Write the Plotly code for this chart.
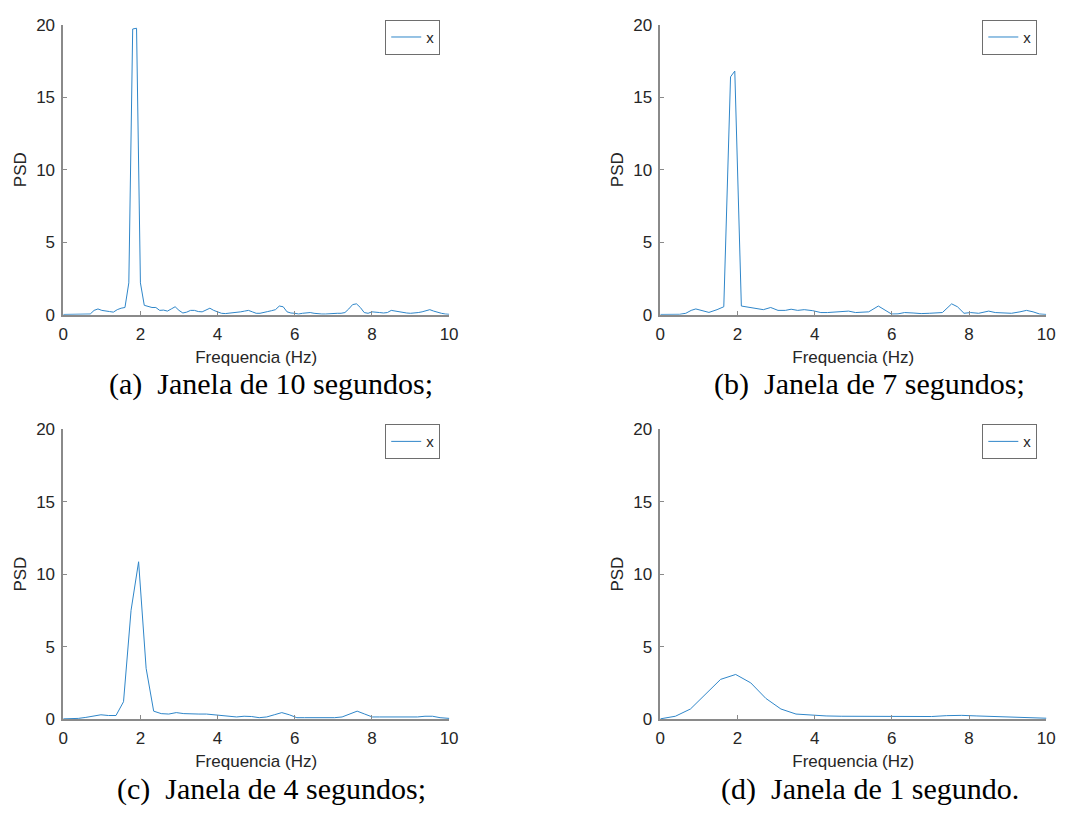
import plotly.graph_objects as go

# ---- spectra (PSD) for four window lengths ----
# (a) 10 s window, 0.1 Hz bins
freq_a = [round(k * 0.1, 2) for k in range(101)]
psd_a = [0.02, 0.02, 0.02, 0.02, 0.03, 0.03, 0.03, 0.05, 0.30, 0.40,
         0.30, 0.28, 0.22, 0.18, 0.35, 0.45, 0.50, 2.20, 19.70, 19.75,
         2.20, 0.65, 0.55, 0.50, 0.50, 0.30, 0.32, 0.25, 0.40, 0.55,
         0.30, 0.12, 0.18, 0.30, 0.30, 0.22, 0.20, 0.35, 0.45, 0.30,
         0.20, 0.10, 0.08, 0.10, 0.15, 0.18, 0.20, 0.25, 0.30, 0.20,
         0.10, 0.10, 0.18, 0.22, 0.28, 0.35, 0.60, 0.55, 0.20, 0.12,
         0.10, 0.05, 0.10, 0.15, 0.15, 0.10, 0.06, 0.05, 0.05, 0.08,
         0.10, 0.10, 0.10, 0.15, 0.40, 0.70, 0.75, 0.50, 0.15, 0.10,
         0.20, 0.20, 0.15, 0.12, 0.15, 0.30, 0.25, 0.18, 0.15, 0.12,
         0.10, 0.10, 0.15, 0.20, 0.25, 0.35, 0.25, 0.15, 0.10, 0.05,
         0.03]

# (b) 7 s window
freq_b = [0.0, 0.17, 0.34, 0.50, 0.66, 0.80, 0.92, 1.07, 1.26, 1.47,
          1.645, 1.82, 1.93, 2.10, 2.28, 2.46, 2.67, 2.86, 3.05, 3.24,
          3.39, 3.56, 3.73, 3.95, 4.16, 4.33, 4.50, 4.71, 4.88, 5.06,
          5.23, 5.40, 5.65, 5.78, 5.99, 6.16, 6.33, 6.55, 6.76, 6.97,
          7.14, 7.31, 7.55, 7.70, 7.87, 8.04, 8.25, 8.51, 8.68, 8.93,
          9.10, 9.32, 9.49, 9.66, 9.83, 10.0]
psd_b = [0.02, 0.02, 0.02, 0.03, 0.10, 0.30, 0.40, 0.30, 0.16, 0.35,
         0.55, 16.40, 16.80, 0.60, 0.52, 0.45, 0.35, 0.50, 0.30, 0.30,
         0.38, 0.30, 0.35, 0.28, 0.15, 0.15, 0.18, 0.25, 0.25, 0.15,
         0.20, 0.20, 0.60, 0.40, 0.05, 0.06, 0.15, 0.12, 0.08, 0.10,
         0.15, 0.15, 0.75, 0.55, 0.10, 0.15, 0.10, 0.25, 0.15, 0.10,
         0.10, 0.20, 0.30, 0.20, 0.05, 0.02]

# (c) 4 s window, fs = 50 Hz, nfft = 256
freq_c = [k * 50 / 256 for k in range(53)]
psd_c = [0.02, 0.02, 0.05, 0.12, 0.20, 0.30, 0.25, 0.25, 1.20, 7.50,
         10.85, 3.50, 0.55, 0.38, 0.35, 0.45, 0.38, 0.35, 0.35, 0.35,
         0.30, 0.20, 0.15, 0.15, 0.20, 0.18, 0.10, 0.15, 0.30, 0.45,
         0.30, 0.10, 0.10, 0.10, 0.08, 0.08, 0.10, 0.15, 0.35, 0.55,
         0.35, 0.15, 0.15, 0.15, 0.15, 0.10, 0.10, 0.15, 0.20, 0.20,
         0.10, 0.03, 0.02]

# (d) 1 s window, fs = 50 Hz, nfft = 128
freq_d = [k * 50 / 128 for k in range(27)]
psd_d = [0.02, 0.20, 0.70, 1.70, 2.74, 3.08, 2.50, 1.43, 0.70, 0.35,
         0.26, 0.22, 0.20, 0.20, 0.22, 0.20, 0.17, 0.17, 0.18, 0.24,
         0.26, 0.22, 0.18, 0.15, 0.12, 0.08, 0.05]

captions = ["(a)  Janela de 10 segundos;", "(b)  Janela de 7 segundos;",
            "(c)  Janela de 4 segundos;", "(d)  Janela de 1 segundo."]

x_ticks = [0, 2, 4, 6, 8, 10]
y_ticks = [0, 5, 10, 15, 20]

W, H = 1070, 819
LINE = "#2f86c9"
AXIS = "#8a8a8a"
TXT = "#262626"

# plot areas in pixels: (left, right, top, bottom)
boxes = [(59, 450, 16, 313), (664, 1055, 16, 313),
         (59, 450, 430, 727), (664, 1055, 430, 727)]
caption_pos = [(270, 384), (876, 384), (270, 799), (876, 799)]

series = [(freq_a, psd_a), (freq_b, psd_b), (freq_c, psd_c), (freq_d, psd_d)]

fig = go.Figure()
layout = dict(
    width=W, height=H,
    margin=dict(l=0, r=0, t=0, b=0),
    paper_bgcolor="white", plot_bgcolor="white",
    font=dict(family="Liberation Sans, Arial", size=17, color=TXT),
    annotations=[],
)

for i, ((fx, py), (l, r, t, b)) in enumerate(zip(series, boxes)):
    n = "" if i == 0 else str(i + 1)
    leg = "legend" if i == 0 else f"legend{i + 1}"
    fig.add_trace(go.Scatter(
        x=fx, y=py, mode="lines", name="x",
        line=dict(color=LINE, width=1),
        xaxis=f"x{n}", yaxis=f"y{n}", legend=leg, showlegend=True,
    ))
    layout[f"xaxis{n}"] = dict(
        domain=[l / W, r / W], anchor=f"y{n}", range=[0, 10],
        tickvals=x_ticks, ticks="inside", ticklen=4, tickcolor=AXIS,
        showline=True, linecolor=AXIS, linewidth=1.5, showgrid=False,
        zeroline=False, tickfont=dict(size=17, color=TXT),
        ticklabelstandoff=3,
        title=dict(text="Frequencia (Hz)", font=dict(size=17, color=TXT),
                   standoff=8),
    )
    layout[f"yaxis{n}"] = dict(
        domain=[1 - b / H, 1 - t / H], anchor=f"x{n}", range=[0, 20],
        tickvals=y_ticks, ticks="inside", ticklen=4, tickcolor=AXIS,
        showline=True, linecolor=AXIS, linewidth=1.5, showgrid=False,
        zeroline=False, tickfont=dict(size=17, color=TXT),
        ticklabelstandoff=3,
        title=dict(text="PSD", font=dict(size=17, color=TXT), standoff=5),
    )
    layout[leg] = dict(
        x=(r - 9) / W, y=1 - (t - 5) / H, xanchor="right", yanchor="top",
        bgcolor="white", bordercolor="#6e6e6e", borderwidth=1,
        font=dict(size=15, color=TXT), itemwidth=30,
    )
    cx, cy = caption_pos[i]
    layout["annotations"].append(dict(
        text=captions[i], x=cx / W, y=1 - cy / H, xref="paper", yref="paper",
        xanchor="center", yanchor="middle", showarrow=False,
        font=dict(family="Liberation Serif, Times New Roman", size=30,
                  color="black"),
    ))

fig.update_layout(**layout)
fig.write_html("out.html")
